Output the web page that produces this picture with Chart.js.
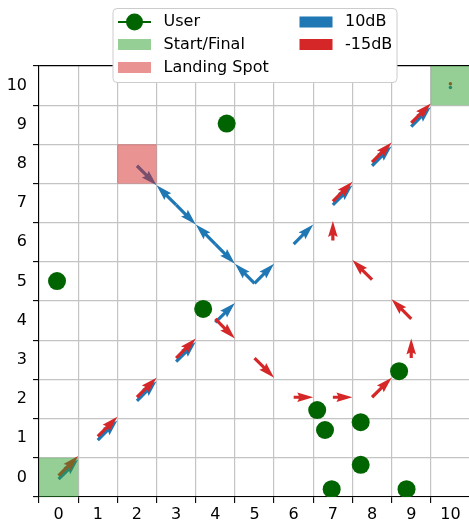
<!DOCTYPE html>
<html>
<head>
<meta charset="utf-8">
<script src="https://cdn.jsdelivr.net/npm/chart.js@4/dist/chart.umd.min.js"></script>
<style>
  html, body { margin: 0; padding: 0; background: #fff; overflow: hidden; }
  #wrap { position: relative; width: 480px; height: 522px; }
</style>
</head>
<body>
<div id="wrap"><canvas id="grid" width="480" height="522"></canvas></div>
<script>
// Grid cells 0..10 on both axes; a cell's centre sits on its integer label.
const tickLabels = ['0', '1', '2', '3', '4', '5', '6', '7', '8', '9', '10'];

// Users on the ground (cell units)
const userX = [-0.04, 4.29, 3.69, 8.69, 6.60, 6.80, 7.71, 7.71, 6.97, 8.88];
const userY = [ 5.01, 9.03, 4.30, 2.71, 1.72, 1.21, 1.41, 0.32, -0.30, -0.30];

// Visited cells of the 10dB trajectory, in order
const path10dBX = [0, 1, 2, 3, 4, 5, 4, 3, 2, 3, 4, 5, 6, 7, 8, 9, 10];
const path10dBY = [0, 1, 2, 3, 4, 5, 6, 7, 8, 7, 6, 5, 6, 7, 8, 9, 10];

// Visited cells of the -15dB trajectory, in order
const pathM15dBX = [0, 1, 2, 3, 4, 5, 6, 7, 8, 9, 9, 8, 7, 7, 8, 9, 10];
const pathM15dBY = [0, 1, 2, 3, 4, 3, 2, 2, 2, 3, 4, 5, 6, 7, 8, 9, 10];

// Highlighted cells
const startFinalX = [0, 10];
const startFinalY = [0, 10];
const landingX = [2];
const landingY = [8];

const BLUE = '#1f77b4';
const RED = '#d62728';
const USER_GREEN = '#006400';
const START_FILL = 'rgba(44,160,44,0.5)';
const LANDING_FILL = 'rgba(214,39,40,0.5)';
const FONT = "'DejaVu Sans', sans-serif";

const isBoundary = v => Math.abs(v - Math.round(v)) > 0.25;

function toPoints(xs, ys) { return xs.map((x, i) => ({ x: x, y: ys[i] })); }

// Quiver-style arrow from (x0,y0) to (x1,y1), pixel space
function drawArrow(ctx, x0, y0, x1, y1, w, color) {
  const dx = x1 - x0, dy = y1 - y0;
  const L = Math.hypot(dx, dy);
  ctx.fillStyle = color;
  if (L < 0.5) {
    ctx.beginPath();
    ctx.arc(x0, y0, w * 0.55, 0, Math.PI * 2);
    ctx.fill();
    return;
  }
  const ux = dx / L, uy = dy / L, px = -uy, py = ux;
  const hl = Math.min(5 * w, L), hal = hl * 0.9, hw = 1.5 * w;
  const local = [[0, w / 2], [L - hal, w / 2], [L - hl, hw], [L, 0],
                 [L - hl, -hw], [L - hal, -w / 2], [0, -w / 2]];
  ctx.beginPath();
  local.forEach(([a, b], i) => {
    const X = x0 + ux * a + px * b, Y = y0 + uy * a + py * b;
    if (i === 0) ctx.moveTo(X, Y); else ctx.lineTo(X, Y);
  });
  ctx.closePath();
  ctx.fill();
}

const trajectoryLayer = {
  id: 'trajectoryLayer',
  beforeDatasetsDraw(chart) {
    const { ctx, scales: { x: sx, y: sy } } = chart;
    ctx.save();
    chart.data.datasets.forEach(ds => {
      if (!ds.arrowColor) return;
      const pts = ds.data;
      pts.forEach((p, i) => {
        const n = pts[i + 1] || p;
        const dirX = n.x - p.x, dirY = n.y - p.y;
        const x0 = sx.getPixelForValue(p.x), y0 = sy.getPixelForValue(p.y) + ds.arrowShift;
        const x1 = sx.getPixelForValue(p.x + dirX / 2), y1 = sy.getPixelForValue(p.y + dirY / 2) + ds.arrowShift;
        drawArrow(ctx, x0, y0, x1, y1, 3.2, ds.arrowColor);
      });
    });
    // translucent cell highlights above the arrows
    const cell = (cx, cy, fill) => {
      const l = sx.getPixelForValue(cx - 0.5), r = sx.getPixelForValue(cx + 0.5);
      const t = sy.getPixelForValue(cy + 0.5), b = sy.getPixelForValue(cy - 0.5);
      ctx.fillStyle = fill;
      ctx.fillRect(l, t, r - l, b - t);
    };
    startFinalX.forEach((cx, i) => cell(cx, startFinalY[i], START_FILL));
    landingX.forEach((cx, i) => cell(cx, landingY[i], LANDING_FILL));
    ctx.restore();
  }
};

const legendEntries = [
  { label: 'User', kind: 'marker', color: USER_GREEN, col: 0, row: 0 },
  { label: 'Start/Final', kind: 'patch', color: START_FILL, col: 0, row: 1 },
  { label: 'Landing Spot', kind: 'patch', color: LANDING_FILL, col: 0, row: 2 },
  { label: '10dB', kind: 'patch', color: BLUE, col: 1, row: 0 },
  { label: '-15dB', kind: 'patch', color: RED, col: 1, row: 1 }
];

const boxLegend = {
  id: 'boxLegend',
  afterDraw(chart) {
    const { ctx, chartArea } = chart;
    const mid = (chartArea.left + chartArea.right) / 2;
    const boxW = 284, boxH = 74;
    const bx = mid - boxW / 2, by = 8;
    ctx.save();
    ctx.beginPath();
    ctx.roundRect(bx + 0.5, by + 0.5, boxW, boxH, 4);
    ctx.fillStyle = '#ffffff';
    ctx.fill();
    ctx.strokeStyle = '#cccccc';
    ctx.lineWidth = 1;
    ctx.stroke();
    const colX = [bx + 5.5, bx + 187];
    const rowY = [by + 14, by + 36.5, by + 59.5];
    const handleW = 33, textGap = 12.5;
    ctx.font = '16px ' + FONT;
    ctx.textBaseline = 'middle';
    ctx.textAlign = 'left';
    legendEntries.forEach(e => {
      const hx = colX[e.col], cy = rowY[e.row];
      if (e.kind === 'marker') {
        ctx.strokeStyle = e.color;
        ctx.lineWidth = 2.2;
        ctx.beginPath();
        ctx.moveTo(hx, cy); ctx.lineTo(hx + handleW, cy);
        ctx.stroke();
        ctx.fillStyle = e.color;
        ctx.beginPath();
        ctx.arc(hx + handleW / 2, cy, 8.5, 0, Math.PI * 2);
        ctx.fill();
      } else {
        ctx.fillStyle = e.color;
        ctx.fillRect(hx, cy - 5.5, handleW, 11);
      }
      ctx.fillStyle = '#000';
      ctx.fillText(e.label, hx + handleW + textGap, cy);
    });
    ctx.restore();
  }
};

function cellTicks(scale) {
  const t = [];
  for (let k = 0; k <= 22; k++) t.push({ value: -0.5 + k * 0.5 });
  scale.ticks = t;
}

function axis(extra) {
  return Object.assign({
    type: 'linear',
    min: -0.5,
    max: 10.5,
    afterBuildTicks: cellTicks,
    grid: {
      color: c => (c.tick && isBoundary(c.tick.value)) ? '#c4c4c4' : 'rgba(0,0,0,0)',
      tickColor: c => (c.tick && isBoundary(c.tick.value)) ? '#000' : 'rgba(0,0,0,0)',
      lineWidth: 1.2,
      tickWidth: 1.1,
      tickLength: 6,
      drawTicks: true
    },
    border: { display: true, color: '#000', width: 1.1 },
    ticks: {
      autoSkip: false,
      maxRotation: 0,
      color: '#000',
      font: { family: FONT, size: 16 },
      callback: v => isBoundary(v) ? '' : tickLabels[Math.round(v)]
    }
  }, extra);
}

const xAxis = axis({ position: 'bottom', afterFit: s => { s.height = 25; } });
xAxis.ticks.padding = 2;
const yAxis = axis({ position: 'left', afterFit: s => { s.width = 39; } });
yAxis.ticks.padding = 6;
yAxis.grid.color = c => {
  if (!c.tick || !isBoundary(c.tick.value)) return 'rgba(0,0,0,0)';
  return c.tick.value > 10.4 ? '#000' : '#c4c4c4';
};

new Chart(document.getElementById('grid'), {
  type: 'scatter',
  data: {
    datasets: [
      {
        label: 'User',
        data: toPoints(userX, userY),
        pointRadius: 9,
        backgroundColor: USER_GREEN,
        borderWidth: 0,
        order: 0
      },
      {
        label: '10dB',
        data: toPoints(path10dBX, path10dBY),
        pointRadius: 0,
        arrowColor: BLUE,
        arrowShift: 1.8
      },
      {
        label: '-15dB',
        data: toPoints(pathM15dBX, pathM15dBY),
        pointRadius: 0,
        arrowColor: RED,
        arrowShift: -1.8
      }
    ]
  },
  options: {
    responsive: false,
    devicePixelRatio: 1,
    animation: false,
    events: [],
    layout: { padding: { top: 66, right: 10, left: 0, bottom: 0 } },
    plugins: { legend: { display: false }, tooltip: { enabled: false } },
    scales: { x: xAxis, y: yAxis }
  },
  plugins: [trajectoryLayer, boxLegend]
});
</script>
</body>
</html>
